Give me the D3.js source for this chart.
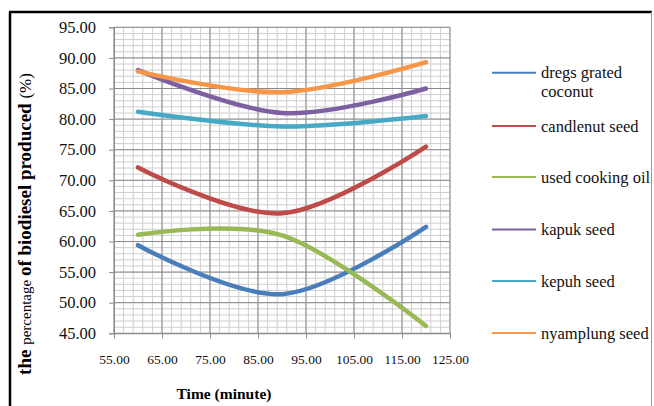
<!DOCTYPE html>
<html><head><meta charset="utf-8">
<script src="https://cdn.jsdelivr.net/npm/d3@7"></script>
<style>body{margin:0;background:#fff}svg{display:block}text{font-family:"Liberation Serif","Times New Roman",serif}</style>
</head><body><svg id="c" width="654" height="406"></svg>
<script>
const times = [60, 90, 120];
const seriesNames = ["dregs grated coconut", "candlenut seed", "used cooking oil", "kapuk seed", "kepuh seed", "nyamplung seed"];
const dregsGratedCoconut = [59.4, 51.4, 62.4];
const candlenutSeed = [72.1, 64.6, 75.5];
const usedCookingOil = [61.1, 61.0, 46.2];
const kapukSeed = [88.0, 81.0, 85.0];
const kepuhSeed = [81.2, 78.8, 80.5];
const nyamplungSeed = [87.8, 84.4, 89.3];
const colors = ["#4A7EBB", "#BE4B48", "#98B954", "#7D60A0", "#46AAC5", "#F79646"];
const xTicks = [55, 65, 75, 85, 95, 105, 115, 125];
const yTicks = [45, 50, 55, 60, 65, 70, 75, 80, 85, 90, 95];

const allValues = [dregsGratedCoconut, candlenutSeed, usedCookingOil, kapukSeed, kepuhSeed, nyamplungSeed];
const svg = d3.select("#c");
const L = 114, R = 450, T = 27.3, B = 333.3;
const x = d3.scaleLinear().domain([55, 125]).range([L, R]);
const y = d3.scaleLinear().domain([45, 95]).range([B, T]);

// frame
svg.append("line").attr("x1", 10).attr("x2", 10).attr("y1", 12).attr("y2", 406).attr("stroke", "#000").attr("stroke-width", 2.5);
svg.append("line").attr("x1", 9).attr("x2", 652).attr("y1", 12).attr("y2", 12).attr("stroke", "#000").attr("stroke-width", 2.5);
svg.append("line").attr("x1", 651.5).attr("x2", 651.5).attr("y1", 12).attr("y2", 406).attr("stroke", "#999").attr("stroke-width", 1);

// grid
const g = svg.append("g");
const minorX = d3.range(55, 125.01, 2);
const minorY = d3.range(45, 95.01, 1);
g.selectAll(".mx").data(minorX).join("line").attr("x1", d => x(d)).attr("x2", d => x(d)).attr("y1", T).attr("y2", B).attr("stroke", "#cfcfcf").attr("stroke-width", 1);
g.selectAll(".my").data(minorY).join("line").attr("y1", d => y(d)).attr("y2", d => y(d)).attr("x1", L).attr("x2", R).attr("stroke", "#cfcfcf").attr("stroke-width", 1);
g.selectAll(".Mx").data(xTicks).join("line").attr("x1", d => x(d)).attr("x2", d => x(d)).attr("y1", T).attr("y2", B).attr("stroke", "#8a8a8a").attr("stroke-width", 1);
g.selectAll(".My").data(yTicks).join("line").attr("y1", d => y(d)).attr("y2", d => y(d)).attr("x1", L).attr("x2", R).attr("stroke", "#8a8a8a").attr("stroke-width", 1);

// axes
const xAxis = d3.axisBottom(x).tickValues(xTicks).tickFormat(d3.format(".2f")).tickSize(5).tickPadding(16);
const ax = svg.append("g").attr("transform", `translate(0,${B})`).call(xAxis);
ax.select(".domain").attr("stroke", "#8a8a8a");
ax.selectAll(".tick line").attr("stroke", "#8a8a8a");
ax.selectAll("text").attr("font-size", 13.5).attr("fill", "#111").attr("font-family", "Liberation Serif");
const yAxis = d3.axisLeft(y).tickValues(yTicks).tickFormat(d3.format(".2f")).tickSize(5).tickPadding(13);
const ay = svg.append("g").attr("transform", `translate(${L},0)`).call(yAxis);
ay.select(".domain").attr("stroke", "#8a8a8a");
ay.selectAll(".tick line").attr("stroke", "#8a8a8a");
ay.selectAll("text").attr("font-size", 16.5).attr("fill", "#111").attr("font-family", "Liberation Serif");

// lines
const line = d3.line().x(d => x(d[0])).y(d => y(d[1])).curve(d3.curveCardinal.tension(0));
allValues.forEach((vals, i) => {
  svg.append("path").datum(times.map((t, j) => [t, vals[j]]))
    .attr("d", line).attr("fill", "none").attr("stroke", colors[i]).attr("stroke-width", 4.5).attr("stroke-linecap", "round");
});

// legend
const legY = [72.7, 126, 177, 229.5, 281, 333];
seriesNames.forEach((n, i) => {
  svg.append("line").attr("x1", 492).attr("x2", 536).attr("y1", legY[i]).attr("y2", legY[i]).attr("stroke", colors[i]).attr("stroke-width", 2);
  const t = svg.append("text").attr("x", 541).attr("y", legY[i] + 5.5).attr("font-size", 16.5).attr("fill", "#111");
  if (i === 0) {
    t.append("tspan").text("dregs grated");
    t.append("tspan").attr("x", 541).attr("dy", 18.5).text("coconut");
  } else t.text(n);
});

// axis titles
svg.append("text").attr("x", 224).attr("y", 399).attr("text-anchor", "middle").attr("font-weight", "bold").attr("font-size", 15.5).attr("fill", "#000").text("Time (minute)");
const yt = svg.append("text").attr("transform", "translate(31,224) rotate(-90)").attr("text-anchor", "middle").attr("fill", "#000");
yt.append("tspan").attr("font-weight", "bold").attr("font-size", 19).text("the ");
yt.append("tspan").attr("font-size", 15).text("percentage ");
yt.append("tspan").attr("font-weight", "bold").attr("font-size", 19).text("of  biodiesel produced ");
yt.append("tspan").attr("font-size", 17).text("(%)");
</script></body></html>
